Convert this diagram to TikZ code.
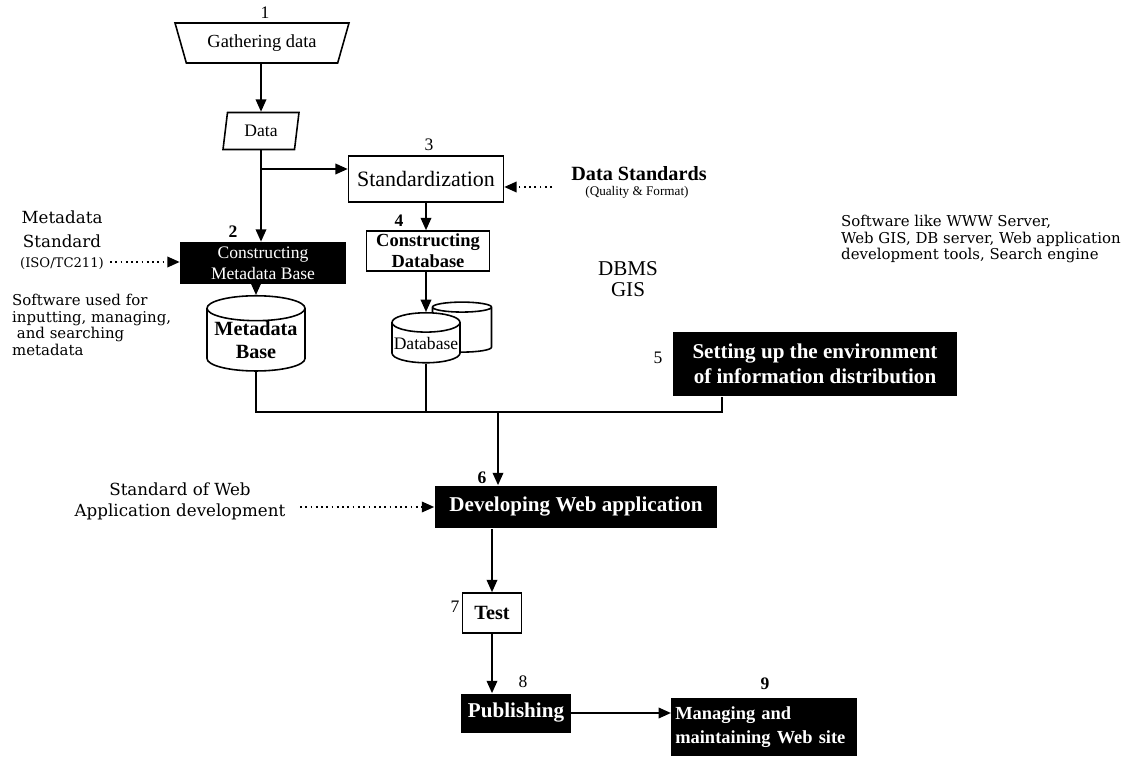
\documentclass[tikz,border=0pt]{standalone}
\usepackage{fontspec}
\setmainfont{Liberation Serif}
\newfontfamily\widefont{DejaVu Serif}
\usetikzlibrary{arrows.meta,shapes.geometric}
\begin{document}
\begin{tikzpicture}[x=0.02cm,y=-0.02cm,
  num/.style={font=\fontsize{10}{10}\selectfont},
  plainbox/.style={draw,line width=0.9pt,fill=white,inner sep=0pt,align=center},
  darkbox/.style={fill=black,text=white,inner sep=0pt,align=center,font=\fontsize{12}{14}\selectfont\bfseries},
  drum/.style={draw,line width=0.9pt,fill=white,cylinder,shape border rotate=90,aspect=0.3,inner sep=0pt,align=center},
  note/.style={font=\widefont\fontsize{8}{10}\selectfont,align=left},
  flow/.style={line width=1pt,-{Triangle[length=7pt,width=6pt]}},
  hint/.style={line width=1pt,dotted,-{Triangle[length=7pt,width=6pt]}},
  bus/.style={line width=0.8pt}]

\useasboundingbox (0,0) rectangle (1128,759);

% gathering and data
\node[num] (lab1) at (265,13) {1};
\node[draw,line width=0.9pt,trapezium,shape border rotate=180,trapezium left angle=56,trapezium right angle=56,
  trapezium stretches body,minimum width=3.48cm,minimum height=0.8cm,inner sep=0pt,font=\fontsize{10.5}{12}\selectfont] (gather) at (262,43) {Gathering data};
\node[draw,line width=0.9pt,trapezium,trapezium left angle=69,trapezium right angle=111,
  trapezium stretches body,minimum width=1.52cm,minimum height=0.74cm,inner sep=0pt,font=\fontsize{10}{12}\selectfont] (data) at (261,131) {Data};

% standardization branch
\node[num] (lab3) at (429,145) {3};
\node[plainbox,minimum width=3.1cm,minimum height=0.92cm,font=\fontsize{12.5}{14}\selectfont] (std) at (426,179) {Standardization};
\node[font=\fontsize{11.5}{13}\selectfont\bfseries] (dstd) at (639,174) {Data Standards};
\node[font=\fontsize{7.5}{9}\selectfont] (qform) at (637,192) {(Quality \& Format)};
\node[num,font=\fontsize{10}{10}\selectfont\bfseries] (lab4) at (399,221) {4};
\node[plainbox,minimum width=2.46cm,minimum height=0.8cm,font=\fontsize{10.5}{12}\selectfont\bfseries] (cdb) at (428,251) {Constructing\\Database};
\node[drum,minimum width=1.18cm,minimum height=1.0cm,font=\fontsize{10}{12}\selectfont] (dback) at (462,330) {\phantom{Data}};
\node[drum,minimum width=1.36cm,minimum height=1.0cm,font=\fontsize{10}{12}\selectfont] (dfront) at (426,343) {Database};
\node[align=center,font=\fontsize{12}{12}\selectfont] (dbms) at (628,279) {DBMS\\GIS};

% metadata branch
\node[align=center,font=\widefont\fontsize{9.5}{14}\selectfont] (mstd) at (62,240) {Metadata\\Standard\\[-3pt]{\fontsize{7.5}{9}\selectfont(ISO/TC211)}};
\node[note,anchor=west,font=\widefont\fontsize{8.5}{9.5}\selectfont] (swmeta) at (6,325) {Software used for\\inputting, managing,\\\ and searching\\metadata};
\node[num,font=\fontsize{10}{10}\selectfont\bfseries] (lab2) at (233,232) {2};
\node[darkbox,minimum width=3.32cm,minimum height=0.84cm,font=\fontsize{10}{12}\selectfont] (mdb) at (263,263) {Constructing\\Metadata Base};
\node[drum,minimum width=1.96cm,minimum height=1.2cm,font=\fontsize{11.5}{13}\selectfont\bfseries] (mbase) at (256,340) {Metadata\\Base};

% distribution environment
\node[num] (lab5) at (658,358) {5};
\node[darkbox,minimum width=5.7cm,minimum height=1.3cm] (env) at (815,364) {Setting up the environment\\of information distribution};
\node[note,anchor=west,font=\widefont\fontsize{8.5}{9.5}\selectfont] (swweb) at (835,239) {Software like WWW Server,\\Web GIS, DB server, Web application\\development tools, Search engine};

% web application and after
\node[num,font=\fontsize{10}{10}\selectfont\bfseries] (lab6) at (482,478) {6};
\node[darkbox,minimum width=5.66cm,minimum height=0.86cm] (dev) at (576,507) {Developing Web application};
\node[align=center,font=\widefont\fontsize{9.5}{12}\selectfont] (webstd) at (180,501) {Standard of Web\\Application development};
\node[num] (lab7) at (455,607) {7};
\node[plainbox,minimum width=1.18cm,minimum height=0.8cm,font=\fontsize{11.5}{13}\selectfont\bfseries] (test) at (492,613) {Test};
\node[num] (lab8) at (523,682) {8};
\node[darkbox,minimum width=2.2cm,minimum height=0.78cm] (pub) at (516,713) {Publishing};
\node[num,font=\fontsize{10}{10}\selectfont\bfseries] (lab9) at (765,684) {9};
\node[darkbox,align=left,text width=3.55cm,inner xsep=0.08cm,minimum height=1.16cm,font=\fontsize{10.5}{14}\selectfont\bfseries] (mng) at (764,727) {Managing and\\maintaining Web site};

% connectors
\coordinate (fork) at (261,169);
\coordinate (dsin) at (552,187);
\coordinate (msin) at (110,262);
\coordinate (wsin) at (300,507);
\coordinate (bus) at (498,412);
\draw[flow] (gather.south -| data.north) -- (data.north);
\draw[flow] (data.south) -- (data.south |- mdb.north);
\draw[flow] (fork) -- (fork -| std.west);
\draw[hint] (dsin) -- (dsin -| std.east);
\draw[flow] (std.south) -- (std.south |- cdb.north);
\draw[flow] (dfront.north |- cdb.south) -- (dfront.north);
\draw[hint] (msin) -- (msin -| mdb.west);
\draw[flow] (mdb.south -| mbase.north) -- (mbase.north);
\draw[bus] (mbase.south) |- (bus) -| ([xshift=-1.86cm]env.south);
\draw[bus] (dfront.south) -- (dfront.south |- bus);
\draw[flow] (bus) -- (bus |- dev.north);
\draw[hint] (wsin) -- (wsin -| dev.west);
\draw[flow] (dev.south -| test.north) -- (test.north);
\draw[flow] (test.south) -- (test.south |- pub.north);
\draw[flow] (pub.east) -- (pub.east -| mng.west);
\end{tikzpicture}
\end{document}
